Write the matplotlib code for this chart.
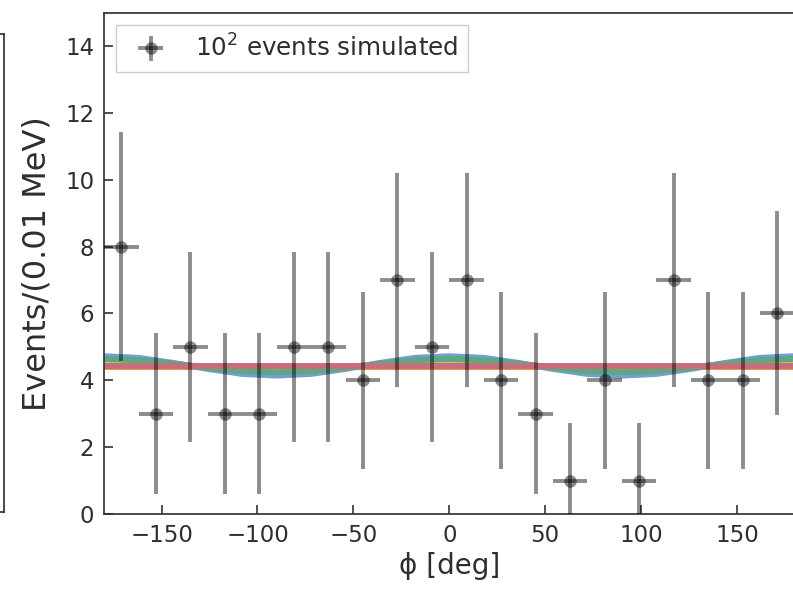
import matplotlib
matplotlib.use("Agg")
import matplotlib.pyplot as plt

# ---- data ----
phi_centers = [-171, -153, -135, -117, -99, -81, -63, -45, -27, -9,
               9, 27, 45, 63, 81, 99, 117, 135, 153, 171]
counts = [8, 3, 5, 3, 3, 5, 5, 4, 7, 5, 7, 4, 3, 1, 4, 1, 7, 4, 4, 6]
count_err = [3.43, 2.4, 2.85, 2.4, 2.4, 2.85, 2.85, 2.65, 3.2, 2.85,
             3.2, 2.65, 2.4, 1.72, 2.65, 1.72, 3.2, 2.65, 2.65, 3.05]
bin_halfwidth = [9] * 20

curve_phi = [-180, -162, -144, -126, -108, -90, -72, -54, -36, -18, 0,
             18, 36, 54, 72, 90, 108, 126, 144, 162, 180]
curve_blue = [4.72, 4.67, 4.52, 4.34, 4.19, 4.14, 4.19, 4.34, 4.52, 4.67, 4.72,
              4.67, 4.52, 4.34, 4.19, 4.14, 4.19, 4.34, 4.52, 4.67, 4.72]
curve_green = [4.64, 4.60, 4.50, 4.37, 4.27, 4.24, 4.27, 4.37, 4.50, 4.60, 4.64,
               4.60, 4.50, 4.37, 4.27, 4.24, 4.27, 4.37, 4.50, 4.60, 4.64]
curve_yellow = [4.56, 4.54, 4.48, 4.40, 4.34, 4.32, 4.34, 4.40, 4.48, 4.54, 4.56,
                4.54, 4.48, 4.40, 4.34, 4.32, 4.34, 4.40, 4.48, 4.54, 4.56]
curve_red = [4.44] * 21
curve_orange = [4.385] * 21

xticks = [-150, -100, -50, 0, 50, 100, 150]
yticks = [0, 2, 4, 6, 8, 10, 12, 14]

W, H = 793, 593
fig = plt.figure(figsize=(W / 100, H / 100), dpi=100)

txt = '#2e2e2e'
spine_c = '#333333'

# partial neighbouring panel at the far left
ax0 = fig.add_axes([-0.3, 1 - 512 / H, 0.3 + 4 / W, (512 - 34) / H])
ax0.set_xticks([])
ax0.set_yticks([])
for s in ax0.spines.values():
    s.set_color(spine_c)
    s.set_linewidth(1.25)

ax = fig.add_axes([104 / W, 1 - 514 / H, (794.5 - 104) / W, (514 - 12.5) / H])

lw_c = 4.3
ax.plot(curve_phi, curve_orange, color='#F0904A', lw=lw_c, zorder=1)
ax.plot(curve_phi, curve_yellow, color='#C4C870', lw=lw_c, zorder=1.1)
ax.plot(curve_phi, curve_blue, color='#739ED8', lw=lw_c, zorder=1.2)
ax.plot(curve_phi, curve_green, color='#5DA882', lw=lw_c, zorder=1.3)
ax.plot(curve_phi, curve_red, color='#C86E7A', lw=lw_c, zorder=1.4)

ax.errorbar(phi_centers, counts, yerr=count_err, xerr=bin_halfwidth,
            fmt='o', color='black', alpha=0.45, ms=9, mew=0, elinewidth=2.8,
            capsize=0, zorder=3, label=r'10$^2$ events simulated')

ax.set_xlim(-180, 180)
ax.set_ylim(0, 15)
ax.set_xticks(xticks)
ax.set_yticks(yticks)
ax.tick_params(direction='in', length=6.5, width=1.2, labelsize=16.5,
               colors=spine_c, labelcolor=txt, pad=7)
for s in ax.spines.values():
    s.set_color(spine_c)
    s.set_linewidth(1.25)

ax.set_xlabel('ϕ [deg]', fontsize=20, color=txt, labelpad=4)
ax.set_ylabel('Events/(0.01 MeV)', fontsize=23, color=txt, labelpad=9)

leg = ax.legend(loc='upper left', fontsize=17.7, frameon=True, fancybox=False,
                edgecolor='#cccccc', framealpha=1)
for t in leg.get_texts():
    t.set_color(txt)

fig.savefig('out.png', dpi=100)
